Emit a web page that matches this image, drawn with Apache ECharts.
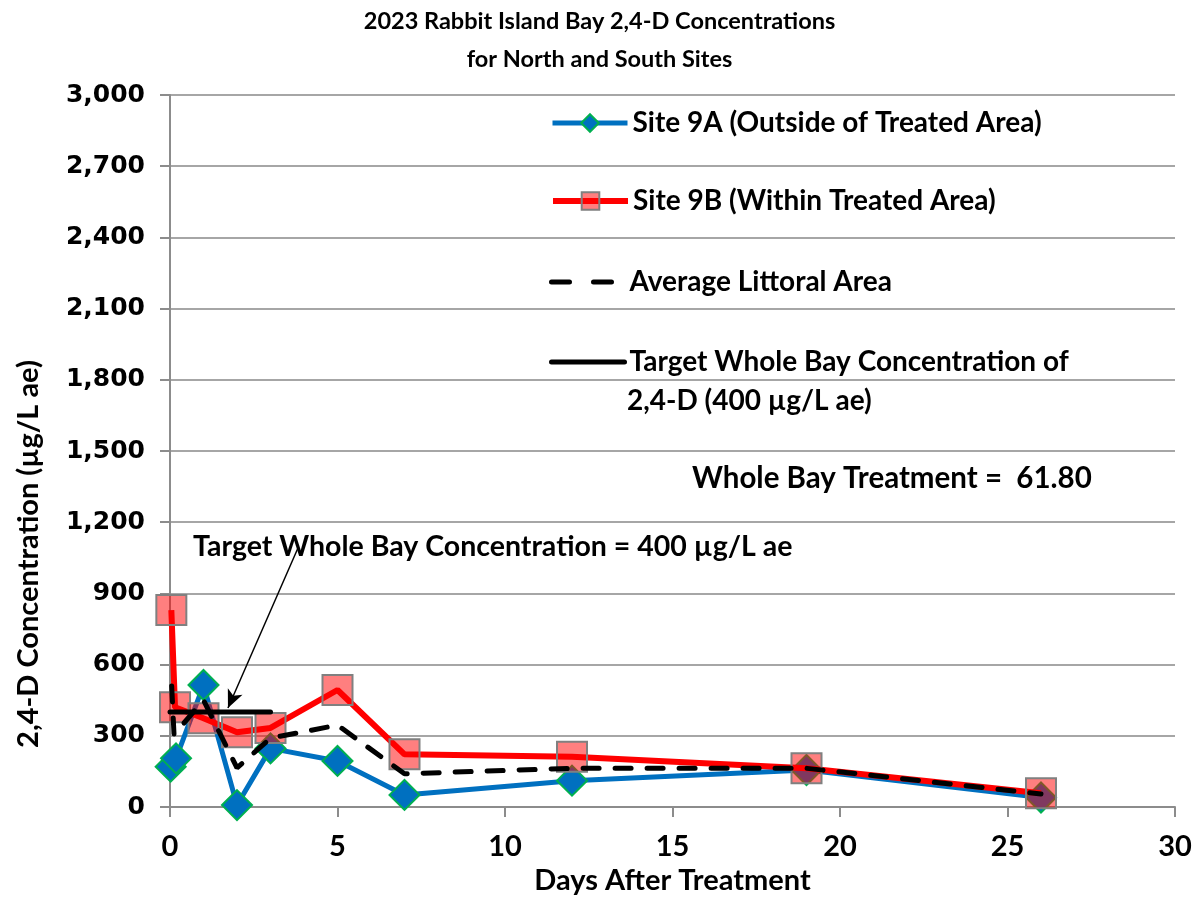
<!DOCTYPE html>
<html>
<head>
<meta charset="utf-8">
<style>
  html, body { margin: 0; padding: 0; background: #fff; }
  #chart { width: 1199px; height: 897px; }
</style>
<script src="https://cdn.jsdelivr.net/npm/echarts@6/dist/echarts.min.js"></script>
</head>
<body>
<div id="chart"></div>
<script>
// values
var daysA = [0.02, 0.18, 1, 2, 3, 5, 7, 12, 19, 26];
var site9A = [170, 205, 514, 8, 247, 194, 51, 111, 156, 40];

var daysB = [0.04, 0.15, 1, 2, 3, 5, 7, 12, 19, 26];
var site9B = [830, 420, 374, 315, 333, 493, 222, 212, 163, 58];

var daysAvg = [0.05, 0.12, 1, 2, 3, 5, 7, 12, 19, 26];
var avgLittoral = [510, 305, 450, 165, 290, 345, 140, 163, 163, 55];

var daysTarget = [0, 3];
var target = [400, 400];

var arrowFrom = [3.82, 1091];
var arrowTo = [1.73, 417];

var names = [
  'Site 9A (Outside of Treated Area)',
  'Site 9B (Within Treated Area)',
  'Average Littoral Area',
  'Target Whole Bay Concentration of'
];

function pairs(xs, ys) {
  return xs.map(function (x, i) { return [x, ys[i]]; });
}

var font = 'Lato';
var chart = echarts.init(document.getElementById('chart'));

// one legend block per row so each row sits where the picture has it
function legendAt(name, centerY, extra) {
  var lg = {
    data: [name],
    left: 550,
    top: centerY - 13,
    padding: 0,
    orient: 'vertical',
    itemWidth: 75,
    itemHeight: 22,
    selectedMode: false,
    lineStyle: { width: 'inherit' },
    textStyle: { fontFamily: font, fontWeight: 'bold', fontSize: 28, color: '#000' }
  };
  if (extra) Object.assign(lg, extra);
  return lg;
}

var option = {
  animation: false,
  backgroundColor: '#fff',
  title: {
    text: '2023 Rabbit Island Bay 2,4-D Concentrations\nfor North and South Sites',
    left: 'center',
    top: -3,
    padding: [5, 0],
    textStyle: { fontFamily: font, fontWeight: 'bold', fontSize: 23.5, lineHeight: 38, color: '#000' }
  },
  grid: { left: 170, right: 24, top: 95, bottom: 90, containLabel: false, outerBoundsMode: 'none' },
  legend: [
    legendAt(names[0], 122),
    legendAt(names[1], 200),
    legendAt(names[2], 281, {
      left: 549, itemWidth: 73,
      itemStyle: { opacity: 0 },
      lineStyle: { width: 'inherit', type: [18, 24], cap: 'round' }
    }),
    legendAt(names[3], 361, {
      left: 549, itemWidth: 73,
      itemStyle: { opacity: 0 }
    })
  ],
  xAxis: {
    type: 'value',
    min: 0, max: 30, interval: 5,
    name: 'Days After Treatment',
    nameLocation: 'middle',
    nameGap: 56,
    nameTextStyle: { fontFamily: font, fontWeight: 'bold', fontSize: 29, color: '#000' },
    axisLine: { lineStyle: { color: '#8c8c8c', width: 2 } },
    axisTick: { show: true, length: 10, lineStyle: { color: '#8c8c8c', width: 2 } },
    axisLabel: { margin: 25, fontFamily: font, fontWeight: 'bold', fontSize: 29, color: '#000' },
    splitLine: { show: false }
  },
  yAxis: {
    type: 'value',
    min: 0, max: 3000, interval: 300,
    axisLine: { show: true, lineStyle: { color: '#8c8c8c', width: 2 } },
    axisTick: { show: true, length: 10, lineStyle: { color: '#8c8c8c', width: 2 } },
    axisLabel: {
      margin: 25, fontFamily: 'DejaVu Sans', fontWeight: 'bold', fontSize: 25, color: '#000',
      formatter: function (v) { return v.toLocaleString('en-US'); }
    },
    splitLine: { lineStyle: { color: '#a6a6a6', width: 2 } }
  },
  graphic: [
    {
      type: 'text', x: 29, y: 554, rotation: Math.PI / 2,
      style: { text: '2,4-D Concentration (µg/L ae)', fontFamily: font, fontWeight: 'bold', fontSize: 29, fill: '#000', align: 'center', verticalAlign: 'middle' }
    },
    {
      type: 'text', x: 627, y: 401,
      style: { text: '2,4-D (400 µg/L ae)', fontFamily: font, fontWeight: 'bold', fontSize: 28, fill: '#000', verticalAlign: 'middle' }
    },
    {
      type: 'text', x: 193, y: 547,
      style: { text: 'Target Whole Bay Concentration = 400 µg/L ae', fontFamily: font, fontWeight: 'bold', fontSize: 28.5, fill: '#000', verticalAlign: 'middle' }
    },
    {
      type: 'text', x: 692, y: 478,
      style: { text: 'Whole Bay Treatment =  61.80', fontFamily: font, fontWeight: 'bold', fontSize: 29.5, fill: '#000', verticalAlign: 'middle' }
    }
  ],
  series: [
    {
      name: names[0],
      type: 'line',
      z: 2,
      data: pairs(daysA, site9A),
      symbol: 'diamond',
      symbolSize: 30,
      lineStyle: { color: '#0070C0', width: 5 },
      itemStyle: { color: '#0070C0', borderColor: '#00B050', borderWidth: 2 }
    },
    {
      name: names[1],
      type: 'line',
      z: 3,
      data: pairs(daysB, site9B),
      symbol: 'rect',
      symbolSize: 30,
      lineStyle: { color: '#FF0000', width: 6 },
      itemStyle: { color: 'rgba(255,0,0,0.5)', borderColor: '#808080', borderWidth: 2 }
    },
    {
      name: names[2],
      type: 'line',
      z: 4,
      data: pairs(daysAvg, avgLittoral),
      symbol: 'none',
      lineStyle: { color: '#000', width: 5, type: [16, 16], cap: 'round' },
      itemStyle: { color: '#000' }
    },
    {
      name: names[3],
      type: 'line',
      z: 5,
      data: pairs(daysTarget, target),
      symbol: 'none',
      lineStyle: { color: '#000', width: 5, cap: 'round' },
      itemStyle: { color: '#000' },
      markLine: {
        silent: true,
        symbol: ['none', 'arrow'],
        symbolSize: [12, 18],
        label: { show: false },
        lineStyle: { color: '#000', width: 1.5, type: 'solid' },
        data: [[{ coord: arrowFrom }, { coord: arrowTo }]]
      }
    }
  ]
};

chart.setOption(option);
</script>
</body>
</html>
